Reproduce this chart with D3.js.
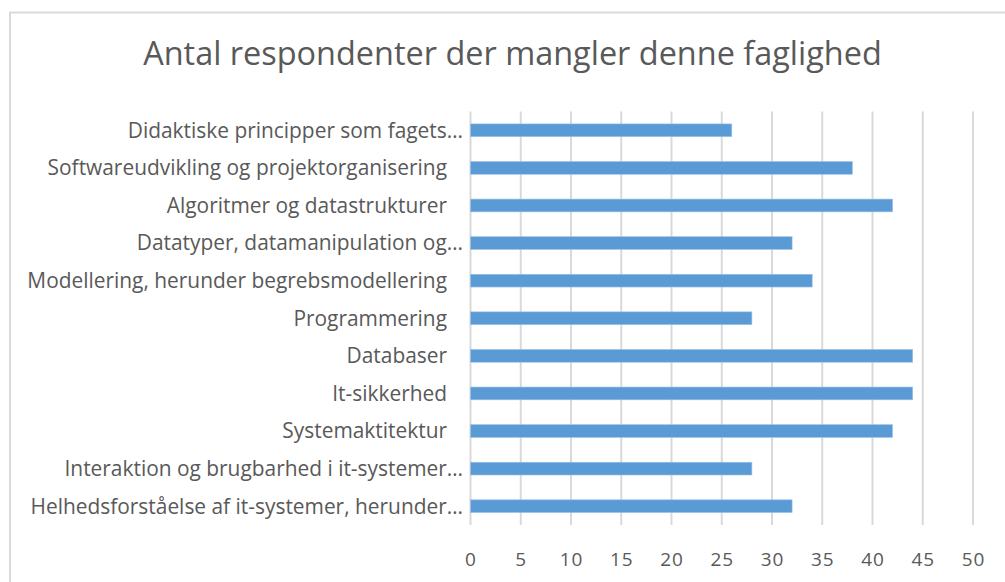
<!DOCTYPE html>
<html>
<head>
<meta charset="utf-8">
<script src="https://cdn.jsdelivr.net/npm/d3@7"></script>
<style>
  html, body { margin: 0; padding: 0; background: #fff; }
  svg { display: block; }
  text { font-family: "Open Sans", "Noto Sans", sans-serif; fill: #595959; }
</style>
</head>
<body>
<svg id="chart" width="1005" height="582"></svg>
<script>
const title = "Antal respondenter der mangler denne faglighed";
const categories = [
  "Didaktiske principper som fagets…",
  "Softwareudvikling og projektorganisering",
  "Algoritmer og datastrukturer",
  "Datatyper, datamanipulation og…",
  "Modellering, herunder begrebsmodellering",
  "Programmering",
  "Databaser",
  "It-sikkerhed",
  "Systemaktitektur",
  "Interaktion og brugbarhed i it-systemer…",
  "Helhedsforståelse af it-systemer, herunder…"
];
const values = [26, 38, 42, 32, 34, 28, 44, 44, 42, 28, 32];
const xTicks = [0, 5, 10, 15, 20, 25, 30, 35, 40, 45, 50];

const svg = d3.select("#chart");
const W = 1005, H = 582;
const plot = { left: 470.5, right: 973, top: 111.5, bottom: 525 };

// frame
svg.append("rect")
  .attr("x", 10).attr("y", 12.5)
  .attr("width", W + 10).attr("height", H + 10)
  .attr("fill", "#fff").attr("stroke", "#d9d9d9").attr("stroke-width", 2);

const x = d3.scaleLinear().domain([0, 50]).range([plot.left, plot.right]);
const y = d3.scaleBand().domain(categories).range([plot.top, plot.bottom]).paddingInner(0.66).paddingOuter(0.33);

// gridlines
svg.append("g").selectAll("line").data(xTicks).join("line")
  .attr("x1", d => x(d)).attr("x2", d => x(d))
  .attr("y1", plot.top).attr("y2", plot.bottom)
  .attr("stroke", "#d9d9d9").attr("stroke-width", 2);

// bars
svg.append("g").selectAll("rect").data(values).join("rect")
  .attr("x", x(0))
  .attr("y", (d, i) => y(categories[i]))
  .attr("width", d => x(d) - x(0))
  .attr("height", y.bandwidth())
  .attr("fill", "#5b9bd5")
  .attr("stroke", "#9dc3e6").attr("stroke-width", 0.6);

// x axis labels
const xAxis = d3.axisBottom(x).tickValues(xTicks).tickSize(0).tickPadding(0);
const gx = svg.append("g").attr("transform", `translate(0,${plot.bottom})`).call(xAxis);
gx.select(".domain").remove();
gx.selectAll("text")
  .attr("y", 34).attr("dy", "0.35em")
  .attr("font-size", 19)
  .style("font-family", '"Open Sans", sans-serif')
  .attr("fill", "#595959")
  .attr("letter-spacing", 1);

// category labels
const lbl = svg.append("g").selectAll("text").data(categories).join("text")
  .attr("text-anchor", "end")
  .attr("x", d => d.endsWith("…") ? 463 : 447)
  .attr("y", d => y(d) + y.bandwidth() / 2)
  .attr("dy", "0.35em")
  .attr("font-size", 18)
  .text(d => d);
// fit label font to reference width of the longest full label
const ref = lbl.filter(d => d.startsWith("Modellering"));
const w0 = ref.node().getComputedTextLength();
const fs = 18 * 420 / w0;
lbl.attr("font-size", fs);

// title
const t = svg.append("text")
  .attr("x", 512.5).attr("y", 65)
  .attr("text-anchor", "middle")
  .attr("font-size", 30)
  .text(title);
const tw = t.node().getComputedTextLength();
t.attr("font-size", 30 * 739 / tw);
</script>
</body>
</html>
